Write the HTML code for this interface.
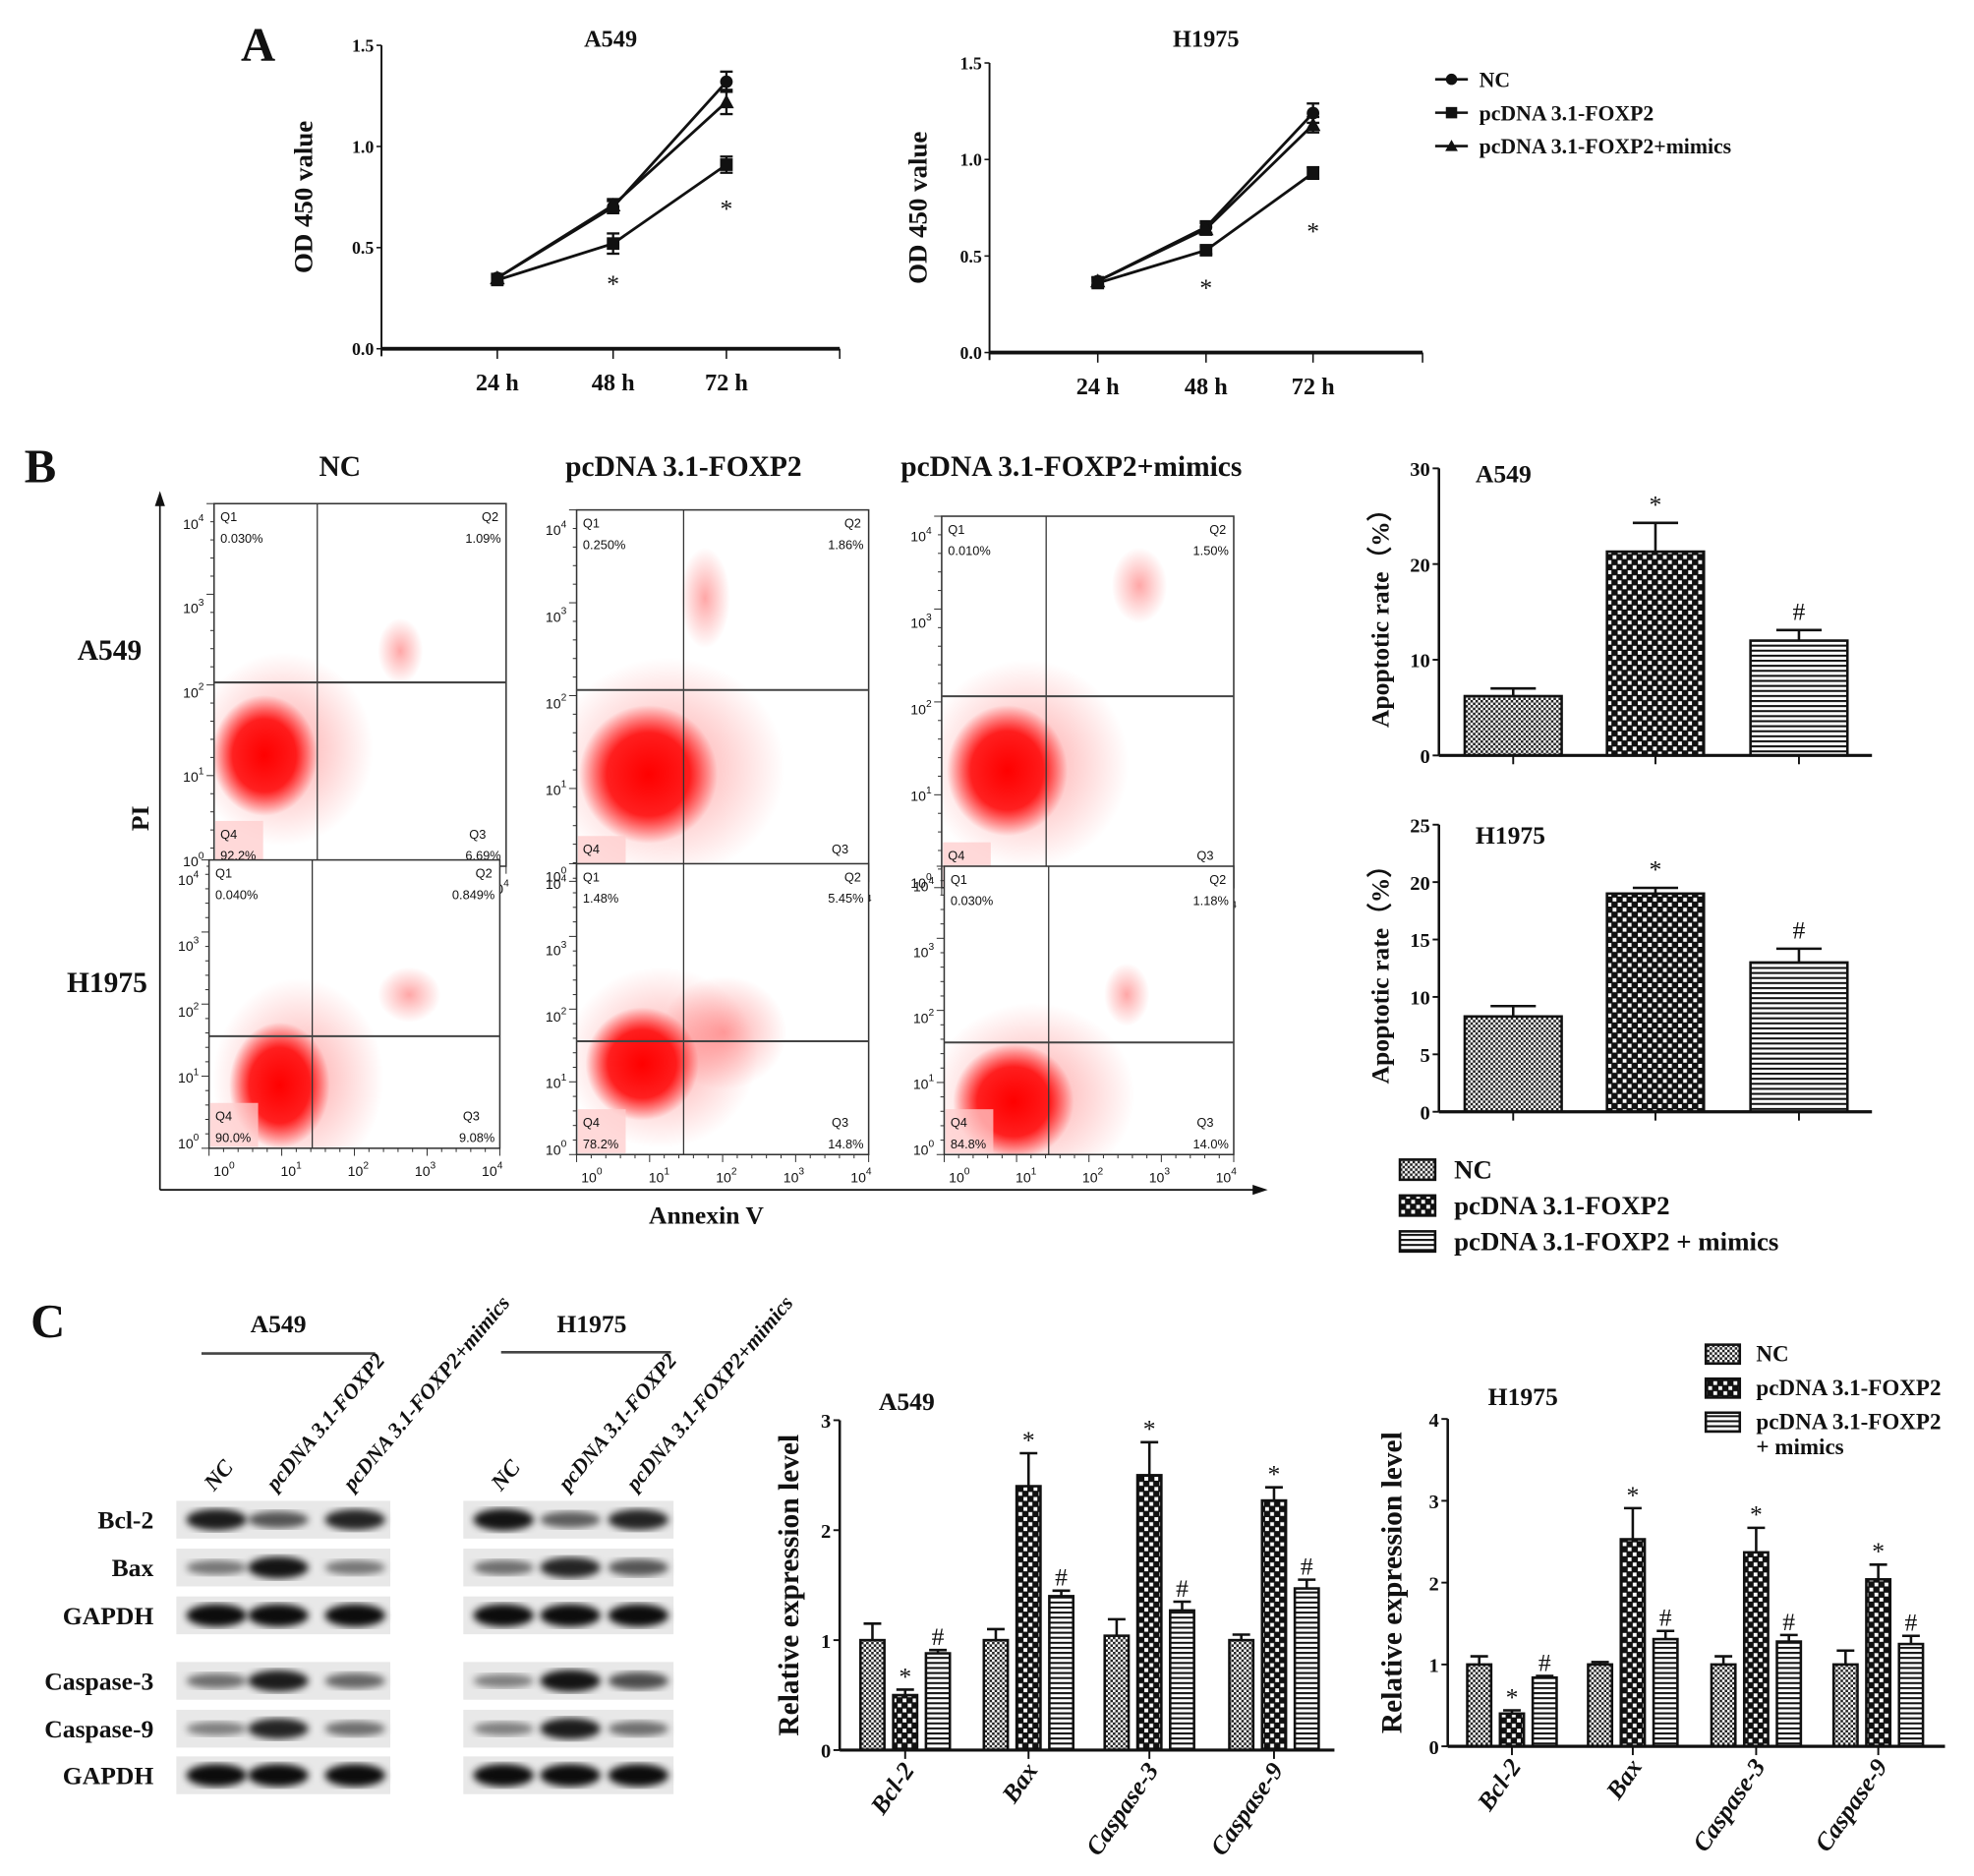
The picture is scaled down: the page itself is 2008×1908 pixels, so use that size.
<!DOCTYPE html>
<html><head><meta charset="utf-8">
<style>
html,body{margin:0;padding:0;background:#fff;}
svg{display:block;font-family:"Liberation Serif",serif;font-weight:bold;}
</style></head>
<body>
<svg id="fig" width="2008" height="1908" viewBox="0 0 1568 1490" xmlns="http://www.w3.org/2000/svg">
<defs>
<pattern id="pNC" width="4" height="4" patternUnits="userSpaceOnUse"><rect width="4" height="4" fill="#fff"/><rect width="2" height="2" fill="#222"/><rect x="2" y="2" width="2" height="2" fill="#222"/></pattern>
<pattern id="pFX" width="8" height="8" patternUnits="userSpaceOnUse"><rect width="8" height="8" fill="#111"/><rect x="1" y="1" width="3" height="3" fill="#fff"/><rect x="5" y="5" width="3" height="3" fill="#fff"/></pattern>
<pattern id="pMI" width="4" height="4" patternUnits="userSpaceOnUse"><rect width="4" height="4" fill="#fff"/><rect width="4" height="1.6" fill="#111"/></pattern>
<radialGradient id="blob"><stop offset="0" stop-color="#f00" stop-opacity="1"/><stop offset="0.6" stop-color="#f00" stop-opacity="0.85"/><stop offset="1" stop-color="#f00" stop-opacity="0"/></radialGradient>
<radialGradient id="blobL"><stop offset="0" stop-color="#f22" stop-opacity="0.4"/><stop offset="1" stop-color="#f22" stop-opacity="0"/></radialGradient>
<filter id="blur"><feGaussianBlur stdDeviation="3"/></filter>
</defs>
</svg>
<script>
// ---------- Panel A data ----------
const timeLabels = ["24 h","48 h","72 h"];
const a549NC = [0.35,0.70,1.32];
const a549NCErr = [0.02,0.03,0.05];
const a549FX = [0.34,0.52,0.91];
const a549FXErr = [0.02,0.05,0.04];
const a549MI = [0.35,0.71,1.22];
const a549MIErr = [0.02,0.03,0.06];
const h1975NC = [0.37,0.65,1.24];
const h1975NCErr = [0.02,0.03,0.05];
const h1975FX = [0.36,0.53,0.93];
const h1975FXErr = [0.02,0.02,0.03];
const h1975MI = [0.37,0.64,1.18];
const h1975MIErr = [0.02,0.03,0.04];
const odTicks = [0,0.5,1.0,1.5];
const odTickLabels = ["0.0","0.5","1.0","1.5"];
// ---------- Panel B data ----------
const apoCats = ["NC","pcDNA 3.1-FOXP2","pcDNA 3.1-FOXP2+mimics"];
const apoA549 = [6.2,21.3,12.0];
const apoA549Err = [0.8,3.0,1.1];
const apoH1975 = [8.3,19.0,13.0];
const apoH1975Err = [0.9,0.5,1.2];
const apoA549Ticks = [0,10,20,30];
const apoH1975Ticks = [0,5,10,15,20,25];
const flowPercA549 = [["0.030%","1.09%","6.69%","92.2%"],["0.250%","1.86%","26.3%","71.5%"],["0.010%","1.50%","12.8%","85.7%"]];
const flowPercH1975 = [["0.040%","0.849%","9.08%","90.0%"],["1.48%","5.45%","14.8%","78.2%"],["0.030%","1.18%","14.0%","84.8%"]];
// ---------- Panel C data ----------
const proteins = ["Bcl-2","Bax","Caspase-3","Caspase-9"];
const relA549NC = [1.0,1.0,1.04,1.0];
const relA549NCErr = [0.15,0.1,0.15,0.05];
const relA549FX = [0.5,2.4,2.5,2.27];
const relA549FXErr = [0.05,0.3,0.3,0.12];
const relA549MI = [0.88,1.4,1.27,1.47];
const relA549MIErr = [0.03,0.05,0.08,0.08];
const relH1975NC = [1.0,1.0,1.0,1.0];
const relH1975NCErr = [0.1,0.03,0.1,0.17];
const relH1975FX = [0.4,2.53,2.37,2.04];
const relH1975FXErr = [0.04,0.38,0.3,0.18];
const relH1975MI = [0.84,1.31,1.28,1.25];
const relH1975MIErr = [0.02,0.1,0.08,0.1];
const relA549Ticks = [0,1,2,3];
const relH1975Ticks = [0,1,2,3,4];

const NS="http://www.w3.org/2000/svg";
const svg=document.getElementById('fig');
function el(tag,attrs,name,parent){
  const e=document.createElementNS(NS,tag);
  for(const k in attrs) e.setAttribute(k,attrs[k]);
  
  
  (parent||svg).appendChild(e);
  return e;
}
function txt(x,y,s,size,name,extra,parent){
  const a=Object.assign({x:x,y:y,'font-size':size,'text-anchor':'middle',fill:'#111'},extra||{});
  const t=el('text',a,name,parent);
  t.textContent=s;
  return t;
}
function line(x1,y1,x2,y2,w,name,parent,col){
  return el('line',{x1:x1,y1:y1,x2:x2,y2:y2,stroke:col||'#111','stroke-width':w||1.5},name,parent);
}

// ---------- Panel labels ----------
txt(205,48,"A",38,"panel-label-a");
txt(32,383,"B",38,"panel-label-b");
txt(38,1062,"C",38,"panel-label-c");

// ---------- Line charts ----------
function lineChart(o){
  const g=el('g',{},o.name);
  const ys=v=>o.y0-(v/1.5)*(o.y0-o.yTop);
  const xs=i=>o.xTicks[i];
  line(o.xAxis,o.yTop,o.xAxis,o.y0+6,1.5,'y-axis',g);
  el('rect',{x:o.xAxis,y:o.y0-1.5,width:o.xEnd-o.xAxis,height:3,fill:'#111'},'x-axis',g);
  odTicks.forEach((v,i)=>{
    line(o.xAxis-4,ys(v),o.xAxis,ys(v),1.2,'y-tick',g);
    txt(o.xAxis-6,ys(v)+5,odTickLabels[i],14,'y-tick-label',{'text-anchor':'end'},g);
  });
  [0,1,2,3].forEach(i=>{const x=i<3?xs(i):o.xEnd;line(x,o.y0,x,o.y0+8,1.2,'x-tick',g);});
  timeLabels.forEach((s,i)=>txt(xs(i),o.y0+33,s,19,'x-tick-label',{},g));
  txt((o.xAxis+o.xEnd)/2,o.yTitle,o.title,19,'chart-title',{},g);
  txt(o.yLabX,(o.yTop+o.y0)/2,"OD 450 value",21,'y-axis-title',{transform:`rotate(-90 ${o.yLabX} ${(o.yTop+o.y0)/2})`},g);
  const series=[[o.nc,o.ncE,'circle','series-nc'],[o.fx,o.fxE,'square','series-foxp2'],[o.mi,o.miE,'tri','series-mimics']];
  series.forEach(([d,e,m,nm])=>{
    const sg=el('g',{},nm,g);
    el('polyline',{points:d.map((v,i)=>xs(i)+','+ys(v)).join(' '),fill:'none',stroke:'#111','stroke-width':2.2},'series-line',sg);
    d.forEach((v,i)=>{
      const x=xs(i),y=ys(v);
      line(x,ys(v+e[i]),x,ys(v-e[i]),1.8,'error-bar',sg);
      line(x-5,ys(v+e[i]),x+5,ys(v+e[i]),1.8,'error-cap',sg);
      line(x-5,ys(v-e[i]),x+5,ys(v-e[i]),1.8,'error-cap',sg);
      if(m==='circle') el('circle',{cx:x,cy:y,r:5,fill:'#111'},'marker',sg);
      else if(m==='square') el('rect',{x:x-5,y:y-5,width:10,height:10,fill:'#111'},'marker',sg);
      else el('polygon',{points:`${x},${y-6} ${x-6},${y+5} ${x+6},${y+5}`,fill:'#111'},'marker',sg);
    });
  });
  o.stars.forEach(s=>txt(xs(s[0]),s[1],"*",20,'significance-star',{'font-weight':'normal'},g));
}
lineChart({name:'chart-a549-growth',xAxis:303,xEnd:667,yTop:36,y0:277,xTicks:[395,487,577],title:"A549",yTitle:37,yLabX:248,
  nc:a549NC,ncE:a549NCErr,fx:a549FX,fxE:a549FXErr,mi:a549MI,miE:a549MIErr,stars:[[1,232],[2,172]]});
lineChart({name:'chart-h1975-growth',xAxis:786,xEnd:1130,yTop:50,y0:280,xTicks:[872,958,1043],title:"H1975",yTitle:37,yLabX:736,
  nc:h1975NC,ncE:h1975NCErr,fx:h1975FX,fxE:h1975FXErr,mi:h1975MI,miE:h1975MIErr,stars:[[1,235],[2,190]]});
(function(){
  const g=el('g',{},'legend-growth');
  const names=["NC","pcDNA 3.1-FOXP2","pcDNA 3.1-FOXP2+mimics"];
  names.forEach((n,i)=>{
    const y=63+i*26.5;
    const eg=el('g',{},'legend-entry',g);
    line(1140,y,1166,y,2,'legend-line',eg);
    if(i===0) el('circle',{cx:1153,cy:y,r:4.5,fill:'#111'},'legend-marker',eg);
    else if(i===1) el('rect',{x:1148.5,y:y-4.5,width:9,height:9,fill:'#111'},'legend-marker',eg);
    else el('polygon',{points:`1153,${y-5} 1148,${y+4} 1158,${y+4}`,fill:'#111'},'legend-marker',eg);
    txt(1175,y+6,n,17,'legend-label',{'text-anchor':'start'},eg);
  });
})();

// ---------- Panel B: flow ----------
txt(270,378,"NC",23,'column-title-nc');
txt(543,378,"pcDNA 3.1-FOXP2",23,'column-title-foxp2');
txt(851,378,"pcDNA 3.1-FOXP2+mimics",23,'column-title-mimics');
txt(87,524,"A549",23,'row-label-a549');
txt(85,788,"H1975",23,'row-label-h1975');
line(127,398,127,945,1.3,'pi-axis');
el('polygon',{points:'127,390 123,402 131,402',fill:'#111'},'pi-axis-arrow');
line(127,945,1000,945,1.3,'annexin-axis');
el('polygon',{points:'1007,945 995,941 995,949',fill:'#111'},'annexin-axis-arrow');
txt(118,650,"PI",20,'pi-axis-title',{transform:'rotate(-90 118 650)'});
txt(561,972,"Annexin V",20,'annexin-axis-title');

const flowBoxes=[
 [170,400,402,688,252,542,[210,600,42,48],[318,517,18,26]],
 [458,405,690,700,543,548,[515,615,55,55],[560,475,20,40]],
 [748,410,980,705,831,553,[800,612,48,52],[905,465,22,30]],
 [166,683,397,912,248,823,[222,862,40,50],[325,790,25,22]],
 [458,686,690,917,543,827,[510,845,45,45],[575,820,50,45]],
 [750,688,980,917,833,828,[805,875,48,46],[895,790,18,25]]
];
const flowPercs=[...flowPercA549,...flowPercH1975];
const defs=svg.querySelector('defs');
flowBoxes.forEach((b,k)=>{
  const [x0,y0,x1,y1,vx,hy,c,c2]=b;
  const cp=el('clipPath',{id:'clip'+k},'clip',defs);
  el('rect',{x:x0,y:y0,width:x1-x0,height:y1-y0},'clip-rect',cp);
  const g=el('g',{},'flow-plot');
  el('rect',{x:x0,y:y0,width:x1-x0,height:y1-y0,fill:'#fff'},'plot-bg',g);
  const sc=el('g',{'clip-path':`url(#clip${k})`},'scatter',g);
  el('ellipse',{cx:c[0]+15,cy:c[1]-5,rx:c[2]*1.7,ry:c[3]*1.6,fill:'url(#blobL)'},'scatter-halo',sc);
  el('ellipse',{cx:c2[0],cy:c2[1],rx:c2[2],ry:c2[3],fill:'url(#blobL)'},'scatter-q2-cloud',sc);
  el('ellipse',{cx:c[0],cy:c[1],rx:c[2],ry:c[3],fill:'url(#blob)'},'scatter-cluster',sc);
  el('rect',{x:x0+1,y:y1-36,width:38,height:35,fill:'#fcc','fill-opacity':0.75},'q4-gate',sc);
  el('rect',{x:x0,y:y0,width:x1-x0,height:y1-y0,fill:'none',stroke:'#333','stroke-width':1.2},'plot-frame',g);
  line(vx,y0,vx,y1,1,'quadrant-vline',g,'#333');
  line(x0,hy,x1,hy,1.6,'quadrant-hline',g,'#444');
  const p=flowPercs[k];
  const sm={'font-family':'Liberation Sans','font-weight':'normal'};
  txt(x0+5,y0+14,"Q1",10,'q1-label',Object.assign({'text-anchor':'start'},sm),g);
  txt(x0+5,y0+31,p[0],10,'q1-percent',Object.assign({'text-anchor':'start'},sm),g);
  txt(x1-6,y0+14,"Q2",10,'q2-label',Object.assign({'text-anchor':'end'},sm),g);
  txt(x1-4,y0+31,p[1],10,'q2-percent',Object.assign({'text-anchor':'end'},sm),g);
  txt(x1-16,y1-22,"Q3",10,'q3-label',Object.assign({'text-anchor':'end'},sm),g);
  txt(x1-4,y1-5,p[2],10,'q3-percent',Object.assign({'text-anchor':'end'},sm),g);
  txt(x0+5,y1-22,"Q4",10,'q4-label',Object.assign({'text-anchor':'start'},sm),g);
  txt(x0+5,y1-5,p[3],10,'q4-percent',Object.assign({'text-anchor':'start'},sm),g);
  for(let i=0;i<5;i++){
    const y=y1-4-i*(y1-y0-20)/4;
    const t=txt(x0-8,y+4,"10",11,'y-tick-label',Object.assign({'text-anchor':'end'},sm),g);
    const s=document.createElementNS(NS,'tspan');s.setAttribute('dy','-6');s.setAttribute('font-size','8');s.textContent=String(i);t.appendChild(s);
    const x=x0+12+i*(x1-x0-18)/4;
    const t2=txt(x,y1+22,"10",11,'x-tick-label',sm,g);
    const s2=document.createElementNS(NS,'tspan');s2.setAttribute('dy','-6');s2.setAttribute('font-size','8');s2.textContent=String(i);t2.appendChild(s2);
  }
  for(let i=0;i<=20;i++){const x=x0+i*(x1-x0)/20;line(x,y1,x,y1+(i%5?3:6),0.8,'x-minor-tick',g,'#333');}
  for(let i=0;i<=20;i++){const y=y0+i*(y1-y0)/20;line(x0-(i%5?3:6),y,x0,y,0.8,'y-minor-tick',g,'#333');}
});

// ---------- Bar charts ----------
const fills=['url(#pNC)','url(#pFX)','url(#pMI)'];
function barChart(o){
  const g=el('g',{},o.name);
  const maxV=o.ticks[o.ticks.length-1];
  const ys=v=>o.y0-(v/maxV)*(o.y0-o.yTop);
  o.series.forEach((ser,si)=>{
    ser.vals.forEach((v,i)=>{
      const cx=o.centers[i]+o.offsets[si];
      const top=ys(v), eTop=ys(v+ser.err[i]);
      line(cx,eTop,cx,top,2,'error-bar',g);
      line(cx-o.cap,eTop,cx+o.cap,eTop,2,'error-cap',g);
      el('rect',{x:cx-o.bw/2,y:top,width:o.bw,height:o.y0-top,fill:fills[si],stroke:'#111','stroke-width':2},ser.name,g);
      if(ser.mark) txt(cx,eTop-o.markGap,ser.mark,20,ser.mark==='#'?'hash-mark':'significance-star',{'font-weight':'normal'},g);
    });
  });
  line(o.xAxis,o.yTop,o.xAxis,o.y0,2,'y-axis',g);
  line(o.xAxis,o.y0,o.xEnd,o.y0,2.5,'x-axis',g);
  o.ticks.forEach(v=>{
    line(o.xAxis-5,ys(v),o.xAxis,ys(v),1.5,'y-tick',g);
    txt(o.xAxis-7,ys(v)+6,String(v),16,'y-tick-label',{'text-anchor':'end'},g);
  });
  (o.tickXs||o.centers).forEach(c=>line(c,o.y0,c,o.y0+7,1.5,'x-tick',g));
  txt(o.titleX,o.titleY,o.title,20,'chart-title',{'text-anchor':'start'},g);
  const cy=(o.yTop+o.y0)/2;
  txt(o.yLabX,cy,o.yLab,o.yLabSize,'y-axis-title',{transform:`rotate(-90 ${o.yLabX} ${cy})`},g);
  if(o.cats) o.cats.forEach((c,i)=>{
    const x=o.centers[i]+8,y=o.y0+16;
    txt(x,y,c,20,'x-tick-label',{'text-anchor':'end','font-style':'italic',transform:`rotate(-55 ${x} ${y})`},g);
  });
}
barChart({name:'chart-apoptosis-a549',xAxis:1143,xEnd:1487,yTop:372,y0:600,ticks:apoA549Ticks,centers:[1315],offsets:[-113,0,114],tickXs:[1202,1315,1429],bw:77,cap:18,markGap:8,
  series:[{vals:[apoA549[0]],err:[apoA549Err[0]],name:'bar-nc'},{vals:[apoA549[1]],err:[apoA549Err[1]],name:'bar-foxp2',mark:'*'},{vals:[apoA549[2]],err:[apoA549Err[2]],name:'bar-mimics',mark:'#'}],
  title:"A549",titleX:1172,titleY:383,yLab:"Apoptotic rate（%）",yLabX:1103,yLabSize:20});
barChart({name:'chart-apoptosis-h1975',xAxis:1143,xEnd:1487,yTop:655,y0:883,ticks:apoH1975Ticks,centers:[1315],offsets:[-113,0,114],tickXs:[1202,1315,1429],bw:77,cap:18,markGap:8,
  series:[{vals:[apoH1975[0]],err:[apoH1975Err[0]],name:'bar-nc'},{vals:[apoH1975[1]],err:[apoH1975Err[1]],name:'bar-foxp2',mark:'*'},{vals:[apoH1975[2]],err:[apoH1975Err[2]],name:'bar-mimics',mark:'#'}],
  title:"H1975",titleX:1172,titleY:670,yLab:"Apoptotic rate（%）",yLabX:1103,yLabSize:20});
["NC","pcDNA 3.1-FOXP2","pcDNA 3.1-FOXP2 + mimics"].forEach((n,i)=>{
  const eg=el('g',{},'legend-entry-apoptosis');
  const y=929+i*28.5;
  el('rect',{x:1112,y:y-8,width:28,height:16,fill:fills[i],stroke:'#111','stroke-width':2},'legend-swatch',eg);
  txt(1155,y+7,n,21,'legend-label',{'text-anchor':'start'},eg);
});

barChart({name:'chart-expression-a549',xAxis:667,xEnd:1060,yTop:1128,y0:1390,ticks:relA549Ticks,centers:[719,817,913,1012],offsets:[-26,0,26],bw:19,cap:7,markGap:4,
  series:[{vals:relA549NC,err:relA549NCErr,name:'bar-nc'},{vals:relA549FX,err:relA549FXErr,name:'bar-foxp2',mark:'*'},{vals:relA549MI,err:relA549MIErr,name:'bar-mimics',mark:'#'}],
  cats:proteins,title:"A549",titleX:698,titleY:1120,yLab:"Relative expression level",yLabX:634,yLabSize:23});
barChart({name:'chart-expression-h1975',xAxis:1150,xEnd:1545,yTop:1127,y0:1387,ticks:relH1975Ticks,centers:[1201,1297,1395,1492],offsets:[-26,0,26],bw:19,cap:7,markGap:4,
  series:[{vals:relH1975NC,err:relH1975NCErr,name:'bar-nc'},{vals:relH1975FX,err:relH1975FXErr,name:'bar-foxp2',mark:'*'},{vals:relH1975MI,err:relH1975MIErr,name:'bar-mimics',mark:'#'}],
  cats:proteins,title:"H1975",titleX:1182,titleY:1116,yLab:"Relative expression level",yLabX:1113,yLabSize:23});
[["NC"],["pcDNA 3.1-FOXP2"],["pcDNA 3.1-FOXP2","+ mimics"]].forEach((n,i)=>{
  const eg=el('g',{},'legend-entry-expression');
  const y=1075+i*27;
  el('rect',{x:1355,y:y-7,width:27,height:15,fill:fills[i],stroke:'#111','stroke-width':2},'legend-swatch',eg);
  txt(1395,y+6,n[0],18,'legend-label',{'text-anchor':'start'},eg);
  if(n[1]) txt(1395,y+26,n[1],18,'legend-label',{'text-anchor':'start'},eg);
});

// ---------- Western blots ----------
txt(221,1058,"A549",20,'blot-group-a549');
line(160,1075,298,1075,2,'blot-group-line-a549',null,'#444');
txt(470,1058,"H1975",20,'blot-group-h1975');
line(398,1074,533,1074,2,'blot-group-line-h1975',null,'#444');
const laneNames=["NC","pcDNA 3.1-FOXP2","pcDNA 3.1-FOXP2+mimics"];
const laneX=[[172,221,282],[400,453,507]];
laneX.forEach(lx=>laneNames.forEach((n,i)=>{
  const x=lx[i]-2,y=1185;
  txt(x,y,n,i===0?18:17,'lane-label',{'text-anchor':'start','font-style':'italic',transform:`rotate(-50 ${x} ${y})`});
}));
const blotRows=["Bcl-2","Bax","GAPDH","Caspase-3","Caspase-9","GAPDH"];
const blotY=[1207,1245,1283,1335,1373,1410];
const bandL=[[0.9,0.55,0.85],[0.35,0.95,0.35],[1,1,1],[0.4,0.9,0.45],[0.3,0.85,0.4],[1,1,1]];
const bandR=[[0.95,0.5,0.85],[0.4,0.85,0.55],[1,1,1],[0.3,0.95,0.6],[0.3,0.9,0.4],[1,1,1]];
blotRows.forEach((r,j)=>{
  const y=blotY[j];
  txt(122,y+7,r,20,'blot-row-label',{'text-anchor':'end'});
  [[140,310,laneX[0],bandL],[368,535,laneX[1],bandR]].forEach(([a,b,lx,bl])=>{
    const g=el('g',{},'blot-strip');
    el('rect',{x:a,y:y-15,width:b-a,height:30,fill:'#e8e8e8'},'blot-background',g);
    lx.forEach((x,i)=>{
      const k=bl[j][i];
      el('ellipse',{cx:x,cy:y,rx:24,ry:4+5*k,fill:'#000','fill-opacity':0.25+0.7*k,filter:'url(#blur)'},'blot-band',g);
    });
  });
});
</script>
</body></html>
